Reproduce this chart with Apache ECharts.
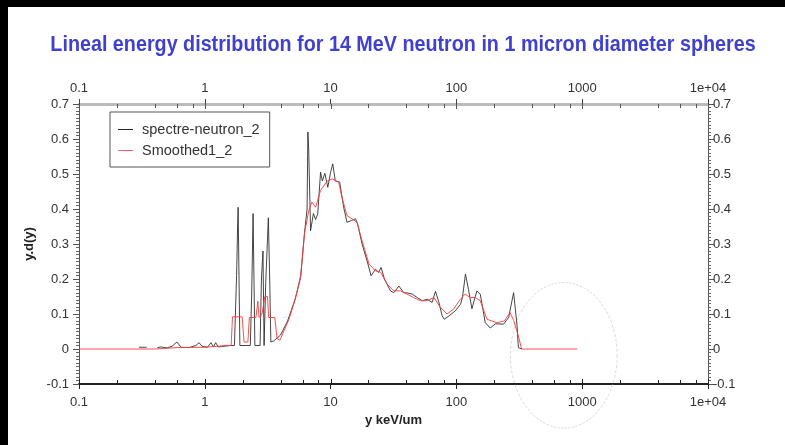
<!DOCTYPE html>
<html>
<head>
<meta charset="utf-8">
<script src="https://cdn.jsdelivr.net/npm/echarts@6/dist/echarts.min.js"></script>
<style>
  html, body { margin: 0; padding: 0; background: #000; }
  #frame { position: relative; width: 785px; height: 445px; background: #000; overflow: hidden; }
  #paper { position: absolute; left: 8px; top: 7px; right: 0; bottom: 0; background: #fff; }
  #chart { position: absolute; left: 0; top: 0; width: 785px; height: 445px; }
</style>
</head>
<body>
<div id="frame">
  <div id="paper"></div>
  <div id="chart"></div>
</div>
<script>
// Raw microdosimetric spectrum (lineal energy y in keV/um, y.d(y))
const spectreE = [0.30, 0.345, null, 0.42, 0.45, 0.5, 0.55, 0.6, 0.65, 0.75, 0.85, 0.9, 0.95, 1.05, 1.12, 1.17, 1.22, 1.28, 1.45, 1.6, 1.72,
  1.79, 1.82, 1.84, 1.87, 1.9, 2.3, 2.36, 2.42, 2.46, 2.5, 2.75, 2.82, 2.9, 2.96, 3.05, 3.2, 3.28, 3.35, 3.53,
  4.0, 4.55, 5.2, 5.78, 6.2, 6.5, 6.6, 6.7, 6.93, 7.3, 7.6, 7.9, 8.32, 8.6, 9.0, 9.5, 10.0, 10.4, 10.9, 11.8,
  12.7, 13.5, 14.6, 15.8, 16.4, 17.8, 19.8, 21, 22.7, 24.1, 25.2, 26.8, 29.9, 31.8, 34.9, 38.1, 41, 44.5,
  48.8, 53.5, 58.6, 64.1, 68.2, 72.4, 77, 80, 87, 98, 108, 112, 118, 124.7, 132.8, 145.5, 154.7, 169.6,
  186, 204, 237, 260, 285, 303, 311, 330];
const spectreVal = [0.005, 0.005, null, 0.004, 0.006, 0.003, 0.008, 0.02, 0.005, 0.004, 0.01, 0.018, 0.008, 0.005, 0.018, 0.006, 0.018, 0.006, 0.008, 0.01, 0.01,
  0.21, 0.34, 0.405, 0.21, 0.01, 0.01, 0.16, 0.387, 0.2, 0.01, 0.01, 0.2, 0.28, 0.01, 0.19, 0.375, 0.2, 0.02, 0.023,
  0.04, 0.08, 0.14, 0.204, 0.33, 0.4, 0.62, 0.567, 0.338, 0.387, 0.37, 0.386, 0.505, 0.48, 0.502, 0.462, 0.505, 0.529, 0.48, 0.477,
  0.405, 0.362, 0.367, 0.372, 0.357, 0.30, 0.243, 0.209, 0.228, 0.219, 0.233, 0.2, 0.166, 0.161, 0.18, 0.161, 0.16, 0.157,
  0.147, 0.138, 0.142, 0.133, 0.165, 0.135, 0.095, 0.085, 0.094, 0.109, 0.128, 0.15, 0.214, 0.171, 0.115, 0.166, 0.157, 0.075,
  0.06, 0.072, 0.071, 0.09, 0.161, 0.07, 0.004, 0.0];

// Smoothed version of the same spectrum
const smoothE = [0.1, 0.4, 0.6, 1.0, 1.5, 1.62, 1.66, 1.98, 2.05, 2.2, 2.26, 2.55, 2.64, 2.7, 2.85, 3.0, 3.15, 3.22, 3.6, 3.75, 3.95,
  4.67, 5.3, 5.78, 6.2, 6.7, 7.1, 7.6, 8.32, 9.4, 10.3, 11.6, 12.3, 13.5, 14.8, 16.2, 17.8, 20.2, 22.7, 25, 28.2,
  31.8, 35.9, 40.4, 45.6, 51.8, 58.6, 66.3, 74.9, 84.2, 95, 107.6, 117.3, 128.8, 141, 154.7, 175, 210, 240, 267,
  285, 311, 330, 913];
const smoothVal = [0.0, 0.0, 0.004, 0.005, 0.01, 0.01, 0.092, 0.092, 0.02, 0.02, 0.09, 0.09, 0.137, 0.09, 0.1, 0.15, 0.15, 0.09, 0.09, 0.03, 0.025,
  0.085, 0.15, 0.21, 0.33, 0.395, 0.42, 0.405, 0.453, 0.48, 0.486, 0.477, 0.434, 0.381, 0.372, 0.362, 0.309, 0.243, 0.223, 0.219, 0.185,
  0.166, 0.166, 0.157, 0.147, 0.138, 0.138, 0.147, 0.118, 0.1, 0.114, 0.142, 0.157, 0.147, 0.147, 0.138, 0.085, 0.075, 0.08, 0.104,
  0.082, 0.037, 0.0, 0.0];

const seriesNames = ['spectre-neutron_2', 'Smoothed1_2'];
const chartTitle = 'Lineal energy distribution for 14 MeV neutron in 1 micron diameter spheres';
const xTickLabels = { 0.1: '0.1', 1: '1', 10: '10', 100: '100', 1000: '1000', 10000: '1e+04' };
const xMinorTicks = [];
[0.1, 1, 10, 100, 1000].forEach(d => [2, 4, 6, 8].forEach(m => xMinorTicks.push(+(d * m).toPrecision(3))));
const xMajorTicks = [0.1, 1, 10, 100, 1000, 10000];

// Highlighted region (data coordinates of the ellipse's bounds)
const ringX = [269, 1896];
const ringY = [-0.226, 0.19];

function zip(xs, ys) {
  return xs.map((x, i) => (x === null ? [null, null] : [x, ys[i]]));
}

const font = '"Liberation Sans", Arial, sans-serif';
const chart = echarts.init(document.getElementById('chart'), null, { renderer: 'canvas' });

const xLabel = v => {
  const p = Math.pow(10, Math.round(Math.log10(v)));
  return xTickLabels[+p.toPrecision(3)] || String(v);
};
const yLabel = v => (Math.abs(v) < 1e-9 ? '0' : v.toFixed(1));

chart.setOption({
  animation: false,
  backgroundColor: 'transparent',
  legend: {
    orient: 'vertical',
    left: 110,
    top: 112,
    data: seriesNames,
    icon: 'rect',
    itemWidth: 15,
    itemHeight: 1,
    itemGap: 6,
    padding: [10, 10, 9, 8],
    borderColor: '#555',
    borderWidth: 1,
    backgroundColor: '#fff',
    textStyle: { fontFamily: font, fontSize: 14.5, lineHeight: 15, color: '#333', padding: [0, 0, 0, 4] }
  },
  grid: { left: 79, right: 77, top: 104, bottom: 61 },
  xAxis: [
    {
      type: 'log', logBase: 10, min: 0.1, max: 10000, position: 'bottom',
      name: 'y keV/um', nameLocation: 'middle', nameGap: 29,
      nameTextStyle: { fontFamily: font, fontSize: 13, fontWeight: 'bold', color: '#222' },
      axisLine: { onZero: false, lineStyle: { color: '#222', width: 2 } },
      axisTick: { show: true, length: 5, lineStyle: { color: '#222' } },
      minorTick: { show: false },
      splitLine: { show: false },
      axisLabel: { fontFamily: font, fontSize: 13, color: '#333', margin: 12, formatter: xLabel }
    },
    {
      type: 'log', logBase: 10, min: 0.1, max: 10000, position: 'top',
      axisLine: { onZero: false, lineStyle: { color: '#bbb', width: 3 } },
      axisTick: { show: true, length: 5, lineStyle: { color: '#444' } },
      minorTick: { show: false },
      splitLine: { show: false },
      axisLabel: { fontFamily: font, fontSize: 13, color: '#333', margin: 9, formatter: xLabel }
    }
  ],
  yAxis: [
    {
      type: 'value', min: -0.1, max: 0.7, interval: 0.1, position: 'left',
      name: 'y.d(y)', nameLocation: 'middle', nameGap: 34, nameRotate: 90,
      nameTextStyle: { fontFamily: font, fontSize: 13, fontWeight: 'bold', color: '#222' },
      axisLine: { show: true, onZero: false, lineStyle: { color: '#555', width: 1 } },
      axisTick: { show: true, length: 6, lineStyle: { color: '#555' } },
      minorTick: { show: true, splitNumber: 10, length: 3, lineStyle: { color: '#666' } },
      splitLine: { show: false },
      axisLabel: { fontFamily: font, fontSize: 13, color: '#333', margin: 10, formatter: yLabel }
    },
    {
      type: 'value', min: -0.1, max: 0.7, interval: 0.1, position: 'right',
      axisLine: { show: true, onZero: false, lineStyle: { color: '#555', width: 1 } },
      axisTick: { show: true, length: 6, lineStyle: { color: '#555' } },
      minorTick: { show: true, splitNumber: 10, length: 3, lineStyle: { color: '#666' } },
      splitLine: { show: false },
      axisLabel: { fontFamily: font, fontSize: 13, color: '#333', margin: 5, formatter: yLabel }
    }
  ],
  series: [
    {
      name: seriesNames[0], type: 'line', xAxisIndex: 0, yAxisIndex: 0,
      data: zip(spectreE, spectreVal), symbol: 'none', connectNulls: false,
      lineStyle: { color: '#262626', width: 1, opacity: 0.85 }, itemStyle: { color: '#262626' }, z: 2
    },
    {
      name: seriesNames[1], type: 'line', xAxisIndex: 0, yAxisIndex: 0,
      data: zip(smoothE, smoothVal), symbol: 'none',
      lineStyle: { color: '#ff3a3a', width: 1, opacity: 0.9 }, itemStyle: { color: '#ff6060' }, z: 3
    }
  ]
});

const graphics = [];

// Condensed bold title
graphics.push({
  type: 'text', silent: true, z: 10,
  x: 403, y: 45, scaleX: 0.94, scaleY: 1.03,
  style: {
    text: chartTitle, fill: '#4040d0',
    font: 'bold 21px "Liberation Sans", Arial, sans-serif',
    align: 'center', verticalAlign: 'middle'
  }
});

// Inward-pointing tick marks on both horizontal axes (2,4,6,8 per decade plus decades)
const yBottom = chart.convertToPixel({ yAxisIndex: 0 }, -0.1);
const yTop = chart.convertToPixel({ yAxisIndex: 0 }, 0.7);
xMinorTicks.concat(xMajorTicks).forEach(v => {
  const px = Math.round(chart.convertToPixel({ xAxisIndex: 0 }, v)) + 0.5;
  const len = xMajorTicks.indexOf(v) >= 0 ? 5 : 4;
  graphics.push({ type: 'line', silent: true, z: 5,
    shape: { x1: px, y1: yBottom, x2: px, y2: yBottom - len },
    style: { stroke: '#222', lineWidth: 1 } });
  graphics.push({ type: 'line', silent: true, z: 5,
    shape: { x1: px, y1: yTop, x2: px, y2: yTop + len },
    style: { stroke: '#555', lineWidth: 1 } });
});

// Dashed ring around the high-energy cut-off
const rx0 = chart.convertToPixel({ xAxisIndex: 0 }, ringX[0]);
const rx1 = chart.convertToPixel({ xAxisIndex: 0 }, ringX[1]);
const ry0 = chart.convertToPixel({ yAxisIndex: 0 }, ringY[0]);
const ry1 = chart.convertToPixel({ yAxisIndex: 0 }, ringY[1]);
const rH = Math.abs(ry0 - ry1) / 2;
const rW = Math.abs(rx1 - rx0) / 2;
graphics.push({
  type: 'circle', silent: true, z: 1,
  x: (rx0 + rx1) / 2, y: (ry0 + ry1) / 2,
  scaleX: rW / rH, scaleY: 1,
  shape: { cx: 0, cy: 0, r: rH },
  style: { fill: 'none', stroke: '#d2d2d2', lineWidth: 1, lineDash: [3, 2], strokeNoScale: true }
});

chart.setOption({ graphic: graphics });
</script>
</body>
</html>
